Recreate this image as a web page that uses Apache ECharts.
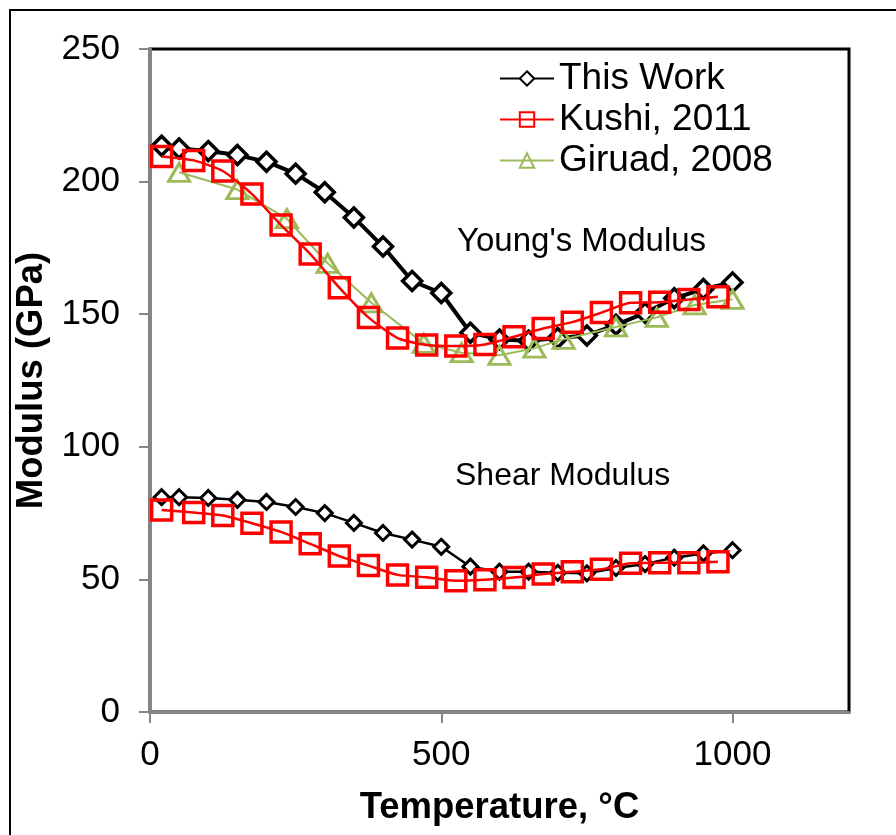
<!DOCTYPE html>
<html>
<head>
<meta charset="utf-8">
<script src="https://cdn.jsdelivr.net/npm/echarts@6/dist/echarts.min.js"></script>
<style>
  html, body { margin: 0; padding: 0; background: #fff; }
  #chart { width: 896px; height: 835px; }
</style>
</head>
<body>
<div id="chart"></div>
<script>
// Temperatures (°C) and moduli (GPa)
var thisWorkTemp = [20, 50, 100, 150, 200, 250, 300, 350, 400, 450, 500, 550, 600, 650, 700, 750, 800, 850, 900, 950, 1000];
var thisWorkYoung = [213.5, 212.5, 211.5, 210, 207.5, 203, 196, 186.5, 175.5, 162.5, 158, 143, 140.5, 140, 141, 142, 146, 150.5, 156, 159.5, 162];
var thisWorkShear = [81, 81, 80.7, 80, 79.2, 77.3, 75, 71.3, 67.5, 65, 62.3, 54.8, 52.9, 52.9, 52.5, 52.3, 54.3, 55.8, 58.2, 59.8, 61];

var kushiTemp = [20, 75, 125, 175, 225, 275, 325, 375, 425, 475, 525, 575, 625, 675, 725, 775, 825, 875, 925, 975];
var kushiYoung = [209.5, 208, 204, 195.3, 183.6, 172.7, 160, 148.8, 141, 138.4, 138, 138.6, 141.5, 144.6, 147, 150.6, 154.3, 154.5, 155.5, 156.6];
var kushiShear = [76.2, 75.2, 74.1, 71.2, 67.9, 63.4, 58.8, 55.2, 51.7, 50.8, 49.5, 49.9, 50.7, 52, 52.9, 53.8, 56.1, 56.3, 56.3, 56.7];

var giraudTemp = [50, 150, 235, 305, 380, 470, 535, 600, 660, 710, 800, 870, 935, 1000];
var giraudYoung = [203.5, 197, 186, 169.2, 154.3, 139, 135.5, 134.5, 137.2, 140.5, 145.2, 148.8, 153.5, 155.6];

var xTicks = [0, 500, 1000];
var yTicks = [0, 50, 100, 150, 200, 250];

function pairs(xs, ys) {
  return xs.map(function (x, i) { return [x, ys[i]]; });
}

var FONT = 'Liberation Sans, Arial, sans-serif';
var BLACK = '#000000';
var RED = '#ff0000';
var GREEN = '#9bbb59';
var AXIS = '#868686';

var chart = echarts.init(document.getElementById('chart'), null, { renderer: 'canvas' });

chart.setOption({
  backgroundColor: '#ffffff',
  animation: false,
  textStyle: { fontFamily: FONT },
  grid: {
    left: 150, right: 47, top: 49, bottom: 123,
    show: true, borderColor: BLACK, borderWidth: 3, backgroundColor: 'transparent'
  },
  xAxis: {
    type: 'value', min: 0, max: 1200, interval: 500,
    name: 'Temperature, °C', nameLocation: 'middle', nameGap: 77,
    nameTextStyle: { fontFamily: FONT, fontSize: 36.5, fontWeight: 'bold', color: BLACK },
    axisLine: { show: true, onZero: false, lineStyle: { color: AXIS, width: 3 } },
    axisTick: { show: true, length: 11, customValues: xTicks, lineStyle: { color: AXIS, width: 2 } },
    axisLabel: {
      customValues: xTicks, margin: 26, fontFamily: FONT, fontSize: 35, color: BLACK,
      formatter: function (v) { return String(v); }
    },
    splitLine: { show: false }
  },
  yAxis: {
    type: 'value', min: 0, max: 250, interval: 50,
    name: 'Modulus (GPa)', nameLocation: 'middle', nameGap: 91,
    nameTextStyle: { fontFamily: FONT, fontSize: 36.5, fontWeight: 'bold', color: BLACK },
    axisLine: { show: true, onZero: false, lineStyle: { color: AXIS, width: 3 } },
    axisTick: { show: true, length: 11, lineStyle: { color: AXIS, width: 2 } },
    axisLabel: {
      customValues: yTicks, margin: 30, fontFamily: FONT, fontSize: 35, color: BLACK,
      formatter: function (v) { return String(v); }
    },
    splitLine: { show: false }
  },
  legend: {
    orient: 'vertical', left: 494, top: 55,
    itemWidth: 54, itemHeight: 18, itemGap: 4,
    data: ['This Work', 'Kushi, 2011', 'Giruad, 2008'],
    textStyle: { fontFamily: FONT, fontSize: 37, color: BLACK, padding: [0, 0, 0, 0], lineHeight: 37 }
  },
  graphic: [
    {
      type: 'rect', silent: true, z: 100,
      shape: { x: 10, y: 10, width: 1200, height: 1200 },
      style: { fill: 'none', stroke: BLACK, lineWidth: 2 }
    },
    {
      type: 'text', left: 457, top: 225, silent: true,
      style: { text: "Young's Modulus", font: '33px ' + FONT, fill: BLACK }
    },
    {
      type: 'text', left: 455, top: 460, silent: true,
      style: { text: 'Shear Modulus', font: '32px ' + FONT, fill: BLACK }
    }
  ],
  series: [
    {
      name: 'This Work', type: 'line', data: pairs(thisWorkTemp, thisWorkYoung),
      symbol: 'diamond', symbolSize: 19, z: 2,
      lineStyle: { color: BLACK, width: 4 },
      itemStyle: { color: '#ffffff', borderColor: BLACK, borderWidth: 3.5 }
    },
    {
      name: 'This Work', type: 'line', data: pairs(thisWorkTemp, thisWorkShear),
      symbol: 'diamond', symbolSize: 15, z: 2,
      lineStyle: { color: BLACK, width: 2.5 },
      itemStyle: { color: '#ffffff', borderColor: BLACK, borderWidth: 3 }
    },
    {
      name: 'Giruad, 2008', type: 'line', data: pairs(giraudTemp, giraudYoung),
      symbol: 'triangle', symbolSize: [21, 18], z: 3,
      lineStyle: { color: GREEN, width: 2 },
      itemStyle: { color: 'rgba(255,255,255,0)', borderColor: GREEN, borderWidth: 3 }
    },
    {
      name: 'Kushi, 2011', type: 'line', data: pairs(kushiTemp, kushiYoung),
      symbol: 'rect', symbolSize: 20, z: 4, smooth: 0.2,
      lineStyle: { color: RED, width: 2.5 },
      itemStyle: { color: 'rgba(255,255,255,0)', borderColor: RED, borderWidth: 3.5 }
    },
    {
      name: 'Kushi, 2011', type: 'line', data: pairs(kushiTemp, kushiShear),
      symbol: 'rect', symbolSize: 20, z: 4, smooth: 0.2,
      lineStyle: { color: RED, width: 2.5 },
      itemStyle: { color: 'rgba(255,255,255,0)', borderColor: RED, borderWidth: 3.5 }
    }
  ]
});
</script>
</body>
</html>
